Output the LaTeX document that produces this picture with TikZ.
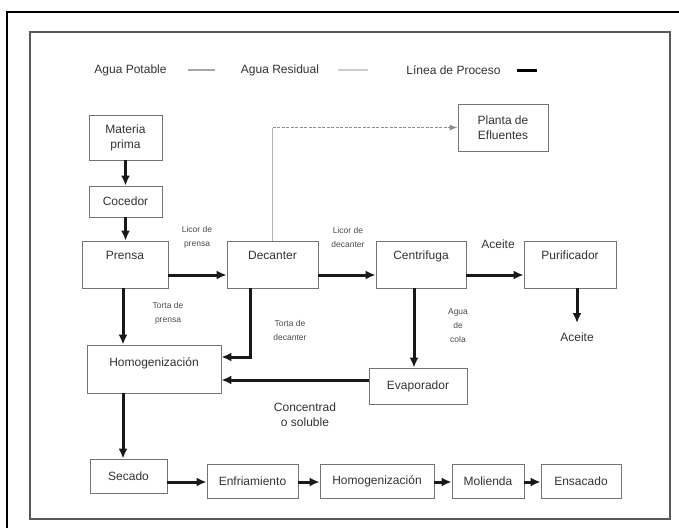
\documentclass[tikz,border=0pt]{standalone}
\usepackage{fontspec}
\setmainfont{Liberation Sans}
\usetikzlibrary{arrows.meta}
\begin{document}
\begin{tikzpicture}[x=1pt,y=-1pt,
  box/.style={draw=black!55, line width=0.8pt, fill=white, font=\fontsize{12}{15}\selectfont, text=black!80, align=center, inner sep=0pt},
  topbox/.style={box, text height=18pt, text depth=29pt},
  arr/.style={line width=3pt, black!90, -{Latex[length=10pt,width=9pt]}},
  lbl/.style={font=\fontsize{8.5}{14}\selectfont, text=black!70, align=center, inner sep=0pt},
  biglbl/.style={font=\fontsize{12}{15}\selectfont, text=black!80, align=center, inner sep=0pt},
  potable/.style={line width=2pt, black!35},
  residual/.style={line width=1.2pt, black!45, dashed, dash pattern=on 3pt off 1.5pt},
  residualv/.style={line width=0.8pt, black!30},
]
\useasboundingbox (0,0) rectangle (679,527);
\clip (0,0) rectangle (679,527);
\fill[white] (0,0) rectangle (679,527);
% frames
\draw[line width=1.6pt, black] (7,540) -- (7,12) -- (700,12);
\draw[line width=1.3pt, black!65] (30,32) rectangle (670,519);

% legend
\node[biglbl] (lg1) at (130.5,70) {Agua Potable};
\node[biglbl] (lg2) at (280,70) {Agua Residual};
\node[biglbl] (lg3) at (453.5,70) {Línea de Proceso};
\draw[potable] (188,70) -- (215,70);
\draw[line width=2pt, black!20] (338,70) -- (368,70);
\draw[line width=3pt, black] (517,70) -- (537,70);

% nodes
\node[box, minimum width=73pt, minimum height=45pt] (mp) at (125.5,137.5) {Materia\\prima};
\node[box, minimum width=73pt, minimum height=31pt] (coc) at (125.5,201.5) {Cocedor};
\node[topbox, minimum width=86pt] (prensa) at (125,264.5) {Prensa};
\node[topbox, minimum width=91pt] (dec) at (272.5,264.5) {Decanter};
\node[topbox, minimum width=90pt] (cen) at (421,264.5) {Centrifuga};
\node[topbox, minimum width=92pt] (pur) at (570,264.5) {Purificador};
\node[box, minimum width=90pt, minimum height=47pt] (planta) at (503,127.5) {Planta de\\Efluentes};
\node[box, minimum width=134pt, text height=21pt, text depth=27pt] (homog) at (154,369) {Homogenización};
\node[box, minimum width=98pt, minimum height=36pt] (evap) at (418,386) {Evaporador};
\node[box, minimum width=77pt, minimum height=34pt] (sec) at (128.5,476) {Secado};
\node[box, minimum width=91pt, minimum height=34pt] (enf) at (252.5,481) {Enfriamiento};
\node[box, minimum width=114pt, minimum height=34pt] (hom2) at (377,481) {Homogenización};
\node[box, minimum width=72pt, minimum height=34pt] (mol) at (488,481) {Molienda};
\node[box, minimum width=80pt, minimum height=34pt] (ens) at (581,481) {Ensacado};

% labels
\node[lbl] (l1) at (197,237) {Licor de\\prensa};
\node[lbl] (l2) at (348,237) {Licor de\\decanter};
\node[biglbl] (l3) at (498,244) {Aceite};
\node[lbl] (l4) at (168,313) {Torta de\\prensa};
\node[lbl] (l5) at (290,330) {Torta de\\decanter};
\node[lbl] (l6) at (458,326) {Agua\\de\\cola};
\node[biglbl] (l7) at (577,337) {Aceite};
\node[biglbl] (l8) at (305,414.5) {Concentrad\\o soluble};

% helper coordinates
\coordinate (hx) at (123,0);
\coordinate (acend) at (577,323);
\coordinate (dc) at (dec.north |- planta.west);

% connectors
\draw[residualv] (dec.north) -- (dc);
\draw[residual, -{Latex[length=8pt,width=6pt]}] (dc) -- (planta.west);

\draw[arr] (mp.south) -- (coc.north);
\draw[arr] (coc.south) -- (coc.south |- prensa.north);
\draw[arr] ([yshift=-10.5pt]prensa.east) -- ([yshift=-10.5pt]dec.west);
\draw[arr] ([yshift=-10.5pt]dec.east) -- ([yshift=-10.5pt]cen.west);
\draw[arr] ([yshift=-10.5pt]cen.east) -- ([yshift=-10.5pt]pur.west);
\draw[arr] ([xshift=7pt]pur.south) -- (acend);
\draw[arr] (prensa.south -| hx) -- (homog.north -| hx);
\draw[arr] ([xshift=-22.5pt]dec.south) |- ([yshift=12pt]homog.east);
\draw[arr] ([xshift=-7pt]cen.south) -- ([xshift=-7pt]cen.south |- evap.north);
\draw[arr] ([yshift=6pt]evap.west) -- ([yshift=6pt]evap.west -| homog.east);
\draw[arr] (homog.south -| hx) -- (sec.north -| hx);
\draw[arr] ([yshift=-6pt]sec.east) -- ([yshift=-1pt]enf.west);
\draw[arr] ([yshift=-1pt]enf.east) -- ([yshift=-1pt]hom2.west);
\draw[arr] ([yshift=-1pt]hom2.east) -- ([yshift=-1pt]mol.west);
\draw[arr] ([yshift=-1pt]mol.east) -- ([yshift=-1pt]ens.west);
\end{tikzpicture}
\end{document}
